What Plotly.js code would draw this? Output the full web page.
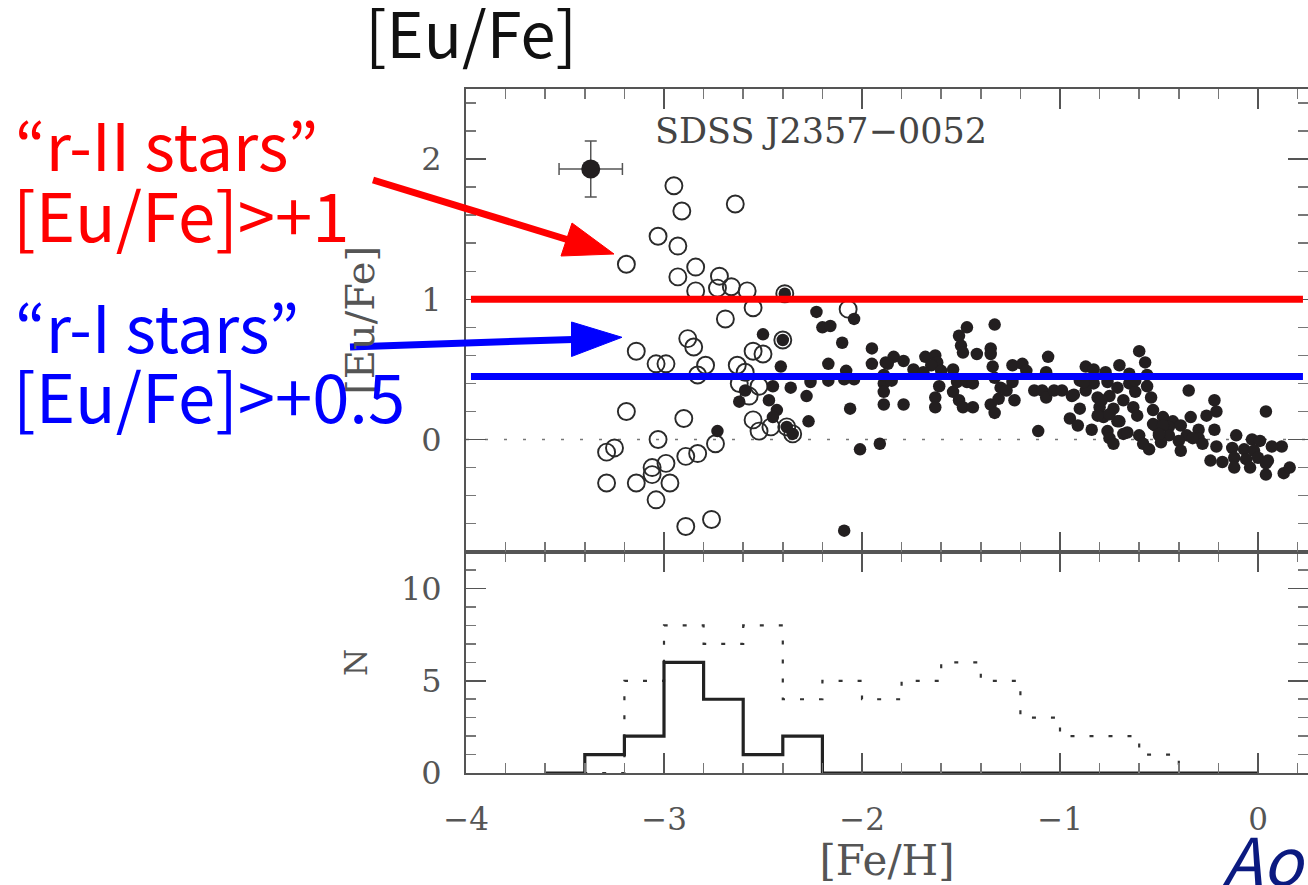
<!DOCTYPE html>
<html>
<head>
<meta charset="utf-8">
<script src="https://cdn.plot.ly/plotly-3.0.1.min.js"></script>
<style>
html,body{margin:0;padding:0;background:#fff;}
#chart{width:1308px;height:885px;}
</style>
</head>
<body>
<div id="chart"></div>
<script>
// ---------------- DATA ----------------
// Open circles: [Fe/H], [Eu/Fe]
const openFeH = [-2.95,-2.64,-2.91,-3.03,-2.93,-3.19,-2.84,-2.93,-2.72,-2.84,-2.73,-2.66,-2.58,-2.39,-2.55,-2.69,-2.07,-2.88,-2.85,-2.40,-3.14,-3.04,-2.99,-2.79,-2.83,-2.55,-2.50,-2.63,-2.59,-2.62,-2.57,-2.52,-3.19,-2.90,-2.55,-2.52,-2.46,-2.38,-2.35,-3.03,-3.29,-3.25,-2.74,-2.83,-2.89,-2.99,-3.06,-3.06,-3.29,-3.14,-2.97,-3.04,-2.89,-2.76];
const openEuFe = [1.81,1.68,1.63,1.45,1.38,1.25,1.23,1.16,1.165,1.06,1.08,1.09,1.06,1.04,0.94,0.86,0.93,0.72,0.66,0.71,0.63,0.54,0.54,0.53,0.46,0.63,0.61,0.53,0.48,0.40,0.31,0.38,0.20,0.15,0.14,0.06,0.09,0.09,0.04,0.00,-0.09,-0.06,-0.03,-0.10,-0.12,-0.17,-0.20,-0.25,-0.31,-0.31,-0.31,-0.43,-0.62,-0.57];

// Filled circles: [Fe/H], [Eu/Fe]
const filledFeH = [
-2.39,-2.40,-2.38,-2.35,-2.73,-2.50,-2.41,-2.45,-2.36,-2.59,-2.62,-2.47,-2.43,-2.45,-2.27,-2.28,-2.26,-2.17,-2.10,-2.23,-2.04,-2.20,-2.16,-2.08,-2.17,-2.09,-2.04,-2.06,-1.95,-1.95,-1.88,-1.89,-1.89,-1.91,-2.01,-2.09,
-1.47,-1.33,-1.51,-1.50,-1.49,-1.42,-1.35,-1.35,-1.84,-1.87,-1.79,-1.68,-1.63,-1.62,-1.65,-1.74,-1.69,-1.60,-1.54,-1.89,-1.85,-1.89,-1.79,-1.61,-1.63,-1.63,-1.54,-1.51,-1.49,-1.44,-1.52,-1.47,-1.44,-1.34,-1.33,-1.30,-1.35,-1.33,-1.31,-1.24,-1.19,-1.17,-1.24,-1.23,-1.27,-1.13,-1.06,-1.07,-1.09,-1.07,-1.03,-0.99,-0.94,-0.95,-0.91,-1.11,
-0.60,-0.57,-0.70,-0.87,-0.83,-0.77,-0.65,-0.56,-0.90,-0.83,-0.76,-0.71,-0.65,-0.56,-0.62,-0.93,-0.87,-0.81,-0.75,-0.68,-0.54,-0.35,-0.90,-0.80,-0.73,-0.63,-0.53,-0.22,-0.21,0.04,-0.78,-0.71,-0.61,-0.48,-0.43,-0.34,-0.26,-0.84,-0.76,-0.68,-0.52,-0.45,-0.39,-0.30,-0.22,-0.75,-0.60,-0.50,-0.45,-0.36,-0.30,-0.11,-0.73,-0.58,-0.49,-0.40,-0.28,-0.21,-0.03,0.01,0.12,0.07,-0.55,-0.39,-0.13,-0.07,-0.02,-0.24,-0.18,-0.12,-0.06,0.00,0.05,-0.12,-0.04,0.04,0.13,0.16,0.04,-0.62,-0.88,-0.79,-0.81,-0.75,-0.70,-0.66,-0.53,-0.48,-0.50,-0.33];
const filledEuFe = [
1.04,0.71,0.09,0.04,0.06,0.75,0.52,0.38,0.37,0.35,0.27,0.28,0.21,0.16,0.13,0.31,0.41,0.54,0.69,0.91,0.86,0.80,0.81,0.49,0.42,0.43,0.43,0.22,0.65,0.54,0.55,0.40,0.25,-0.03,-0.07,-0.65,
0.80,0.82,0.74,0.67,0.62,0.61,0.65,0.61,0.59,0.54,0.56,0.59,0.60,0.55,0.53,0.50,0.48,0.49,0.50,0.46,0.42,0.34,0.25,0.38,0.30,0.23,0.34,0.28,0.23,0.23,0.41,0.41,0.40,0.52,0.44,0.37,0.25,0.19,0.29,0.53,0.54,0.49,0.41,0.28,0.35,0.35,0.59,0.48,0.35,0.30,0.35,0.35,0.31,0.15,0.10,0.06,
0.63,0.55,0.53,0.52,0.50,0.48,0.47,0.46,0.42,0.40,0.41,0.37,0.40,0.38,0.34,0.32,0.35,0.30,0.31,0.28,0.30,0.35,0.22,0.23,0.22,0.23,0.21,0.28,0.20,0.20,0.16,0.13,0.17,0.16,0.13,0.16,0.17,0.07,0.06,0.04,0.10,0.09,0.10,0.07,0.07,0.01,0.03,0.03,0.03,0.03,0.01,0.03,-0.03,-0.03,-0.02,-0.01,-0.03,-0.05,0.00,-0.01,-0.05,-0.05,-0.07,-0.08,-0.06,-0.07,-0.08,-0.15,-0.16,-0.13,-0.14,-0.13,-0.15,-0.20,-0.20,-0.25,-0.24,-0.20,-0.17,0.42,0.41,0.28,0.17,0.18,0.13,0.05,0.11,0.10,0.04,0.01];

// SDSS J2357-0052 with error bars
const starFeH = [-3.37];
const starEuFe = [1.93];
const starErrFeH = [0.16];
const starErrEuFe = [0.20];

// Thresholds drawn on the slide: r-II and r-I
const thresholds = [1.0, 0.45];

// Histogram: left bin edges (width 0.2) and counts
const binLeft = [-3.6,-3.4,-3.2,-3.0,-2.8,-2.6,-2.4,-2.2,-2.0,-1.8,-1.6,-1.4,-1.2,-1.0,-0.8,-0.6,-0.4,-0.2];
const binRight = 0.0;
const countsSolid = [0,1,2,6,4,1,2,0,0,0,0,0,0,0,0,0,0,0];
const countsDotted = [0,0,5,8,7,8,4,5,4,5,6,5,3,2,2,1,0,0];

// ---------------- LAYOUT HELPERS ----------------
const W = 1308, H = 885;
const L = 466, R = 1308, T = 89, B = 773;
function px(x){ return (x - L) / (R - L); }
function py(y){ return (B - y) / (B - T); }
const split = py(551.7);

const serif = 'DejaVu Serif, serif';
const sans = 'Noto Sans CJK JP, Noto Sans, sans-serif';
const axCol = '#555';

function stepX(){ return binLeft.concat([binRight]); }
function stepY(c){ return c.concat([0]); }

const traces = [
  {x: stepX(), y: stepY(countsDotted), xaxis:'x', yaxis:'y', mode:'lines', line:{shape:'hv', color:'#333', width:2.2, dash:'4px,15px'}, hoverinfo:'skip'},
  {x: stepX(), y: stepY(countsSolid), xaxis:'x', yaxis:'y', mode:'lines', line:{shape:'hv', color:'#222', width:3.2}, hoverinfo:'skip'},
  {x: openFeH, y: openEuFe, xaxis:'x2', yaxis:'y2', mode:'markers', marker:{symbol:'circle-open', size:17, color:'#2a2a2a', line:{width:1.9, color:'#2a2a2a'}}},
  {x: filledFeH, y: filledEuFe, xaxis:'x2', yaxis:'y2', mode:'markers', marker:{symbol:'circle', size:12.5, color:'#231f20'}},
  {x: starFeH, y: starEuFe, xaxis:'x2', yaxis:'y2', mode:'markers', marker:{symbol:'circle', size:19, color:'#231f20'},
   error_x:{type:'data', array:starErrFeH, color:'#555', thickness:1.5, width:6},
   error_y:{type:'data', array:starErrEuFe, color:'#555', thickness:1.5, width:6}}
];

const baseX = {
  range:[-4, -4 + (R - L)/198], dtick:1, tick0:0, ticks:'inside', ticklen:20, tickwidth:1.5, tickcolor:axCol,
  showline:true, linecolor:axCol, linewidth:2, mirror:'allticks', showgrid:false, zeroline:false,
  minor:{dtick:0.2, tick0:0, ticks:'inside', ticklen:10, tickwidth:1.5, tickcolor:'#777', showgrid:false},
  tickfont:{family:serif, size:31, color:'#555'}, fixedrange:true
};

const layout = {
  width: W, height: H,
  margin:{l:L, r:W-R, t:T, b:H-B, pad:0},
  paper_bgcolor:'#fff', plot_bgcolor:'#fff', showlegend:false,
  title:{text:'[Eu/Fe]', font:{family:sans, size:63, color:'#111'}, x:471/W, xanchor:'center', xref:'container', y:1-36/H, yanchor:'middle', yref:'container'},
  xaxis: Object.assign({}, baseX, {anchor:'y', domain:[0,1], ticklabelstandoff:18,
    title:{text:'[Fe/H]', font:{family:serif, size:42, color:'#555'}, standoff:8}}),
  xaxis2: Object.assign({}, baseX, {anchor:'y2', domain:[0,1], showticklabels:false}),
  yaxis: {anchor:'x', domain:[0, split], range:[0,12], dtick:5, tick0:0, ticks:'inside', ticklen:20, tickwidth:1.5, tickcolor:axCol,
    showline:true, linecolor:axCol, linewidth:2, mirror:'allticks', showgrid:false, zeroline:false,
    minor:{dtick:1, ticks:'inside', ticklen:10, tickwidth:1.5, tickcolor:'#777'},
    tickfont:{family:serif, size:32, color:'#555'}, ticklabelstandoff:16,
    title:{text:'N', font:{family:serif, size:31, color:'#555'}, standoff:24}, fixedrange:true},
  yaxis2: {anchor:'x2', domain:[split, 1], range:[-0.8,2.5], dtick:1, tick0:0, ticks:'inside', ticklen:20, tickwidth:1.5, tickcolor:axCol,
    showline:true, linecolor:axCol, linewidth:2, mirror:'allticks', showgrid:false, zeroline:false,
    minor:{dtick:0.2, tick0:0, ticks:'inside', ticklen:10, tickwidth:1.5, tickcolor:'#777'},
    tickfont:{family:serif, size:32, color:'#555'}, ticklabelstandoff:16,
    title:{text:'[Eu/Fe]', font:{family:serif, size:40, color:'#555'}, standoff:34}, fixedrange:true},
  shapes:[
    // dotted zero line
    {type:'line', xref:'x2', yref:'y2', x0:-4, x1:-4 + (R-L)/198, y0:0, y1:0, line:{color:'#777', width:1.6, dash:'3px,16px'}, layer:'below'},
    // r-II and r-I threshold lines
    {type:'line', xref:'x2', yref:'y2', x0:-3.975, x1:0.227, y0:thresholds[0], y1:thresholds[0], line:{color:'#ff0000', width:7}},
    {type:'line', xref:'x2', yref:'y2', x0:-3.975, x1:0.227, y0:thresholds[1], y1:thresholds[1], line:{color:'#0000ff', width:7}},
    // red arrow
    {type:'line', xref:'paper', yref:'paper', x0:px(373), y0:py(180), x1:px(567), y1:py(239.5), line:{color:'#ff0000', width:7}},
    {type:'path', xref:'paper', yref:'paper', path:`M ${px(614)},${py(254)} L ${px(561)},${py(256)} L ${px(572)},${py(223)} Z`, fillcolor:'#ff0000', line:{color:'#ff0000', width:1}},
    // blue arrow
    {type:'line', xref:'paper', yref:'paper', x0:px(350), y0:py(347), x1:px(573), y1:py(339.4), line:{color:'#0000ff', width:7}},
    {type:'path', xref:'paper', yref:'paper', path:`M ${px(622)},${py(337.3)} L ${px(571.5)},${py(322)} L ${px(571.5)},${py(356.5)} Z`, fillcolor:'#0000ff', line:{color:'#0000ff', width:1}}
  ],
  annotations:[
    {text:'SDSS J2357−0052', xref:'paper', yref:'paper', x:px(653), y:py(131), xanchor:'left', yanchor:'middle', showarrow:false, font:{family:serif, size:35, color:'#444'}},
    {text:'“r-II stars”', xref:'paper', yref:'paper', x:px(13), y:py(143), xanchor:'left', yanchor:'middle', showarrow:false, font:{family:sans, size:65, color:'#ff0000'}},
    {text:'[Eu/Fe]>+1', xref:'paper', yref:'paper', x:px(11), y:py(212), xanchor:'left', yanchor:'middle', showarrow:false, font:{family:sans, size:67, color:'#ff0000'}},
    {text:'“r-I stars”', xref:'paper', yref:'paper', x:px(13), y:py(325), xanchor:'left', yanchor:'middle', showarrow:false, font:{family:sans, size:65, color:'#0000ff'}},
    {text:'[Eu/Fe]>+0.5', xref:'paper', yref:'paper', x:px(11), y:py(393), xanchor:'left', yanchor:'middle', showarrow:false, font:{family:sans, size:67, color:'#0000ff'}},
    {text:'<i>Aoki</i>', xref:'paper', yref:'paper', x:px(1220), y:py(857), xanchor:'left', yanchor:'middle', showarrow:false, font:{family:sans, size:66, color:'#0b1a80'}}
  ]
};

Plotly.newPlot('chart', traces, layout, {staticPlot:true, displayModeBar:false});
</script>
</body>
</html>
